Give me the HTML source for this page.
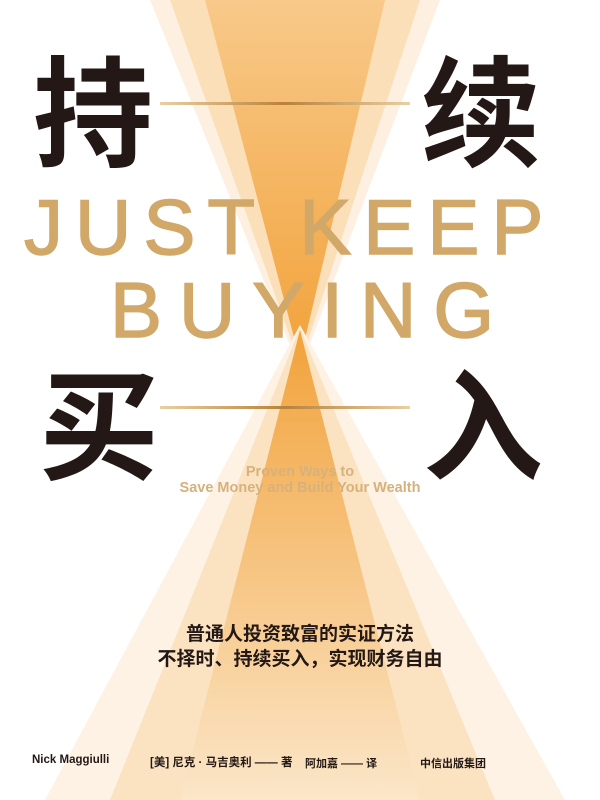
<!DOCTYPE html>
<html><head><meta charset="utf-8"><style>
body{margin:0;width:600px;height:800px;overflow:hidden;background:#fff;position:relative;font-family:"Liberation Sans","Noto Sans CJK SC",sans-serif}
svg{position:absolute;left:0;top:0}
.t{position:absolute;white-space:nowrap}
.big{font-family:"Noto Sans CJK SC",sans-serif;font-weight:700;font-size:120px;line-height:1;color:#231815}
.en{font-family:"Liberation Sans",sans-serif;font-size:78px;line-height:1;letter-spacing:12px;color:#d2a868;-webkit-text-stroke:1.5px #d2a868}
</style></head><body>
<svg width="600" height="800">
<defs>
<linearGradient id="g1" x1="0" y1="0" x2="0" y2="1"><stop offset="0" stop-color="#f8c98a"/><stop offset="1" stop-color="#f2a23a"/></linearGradient>
<linearGradient id="g2" x1="0" y1="0" x2="0" y2="1"><stop offset="0" stop-color="#f2a23a"/><stop offset="1" stop-color="#fbe6c8"/></linearGradient>
<linearGradient id="ln" x1="0" x2="1"><stop offset="0" stop-color="#e9cfa3"/><stop offset=".5" stop-color="#b9823a"/><stop offset="1" stop-color="#e9cfa3"/></linearGradient>
</defs>
<polygon points="150,0 440,0 300,370" fill="#fdf0e0"/>
<polygon points="170,0 420,0 300,365" fill="#fbdfb8"/>
<polygon points="205,0 385,0 300,360" fill="url(#g1)"/>
<polygon points="300,325 45,800 565,800" fill="#fdf2e4"/>
<polygon points="300,328 110,800 495,800" fill="#fbe3c2"/>
<polygon points="300,330 180,800 420,800" fill="url(#g2)"/>
<rect x="160" y="102" width="250" height="3" fill="url(#ln)"/>
<rect x="160" y="406" width="250" height="3" fill="url(#ln)"/>
</svg>
<div class="t big" style="left:33px;top:45px">持</div>
<div class="t big" style="left:421px;top:45px">续</div>
<div class="t big" style="left:39px;top:358px">买</div>
<div class="t big" style="left:423px;top:358px">入</div>
<div class="t en" style="left:24px;top:188px">JUST KEEP</div>
<div class="t en" style="left:110px;top:271px;letter-spacing:17px">BUYING</div>
<div class="t" style="left:0;width:600px;text-align:center;top:464px;font-size:14.5px;font-weight:700;line-height:16px;color:#d6b17c">Proven Ways to<br>Save Money and Build Your Wealth</div>
<div class="t" style="left:0;width:600px;text-align:center;top:620px;font-family:'Noto Sans CJK SC',sans-serif;font-size:19px;font-weight:700;line-height:25px;color:#231815">普通人投资致富的实证方法<br>不择时、持续买入，实现财务自由</div>
<div class="t" style="left:32px;top:754px;font-size:11.5px;font-weight:700;color:#231815">Nick Maggiulli</div>
<div class="t" style="left:150px;top:754px;font-size:11.5px;font-weight:700;color:#231815">[美] 尼克 · 马吉奥利 —— 著</div>
<div class="t" style="left:305px;top:755px;font-size:11px;font-weight:700;color:#231815">阿加嘉 —— 译</div>
<div class="t" style="left:420px;top:755px;font-size:11px;font-weight:700;color:#231815">中信出版集团</div>
</body></html>
